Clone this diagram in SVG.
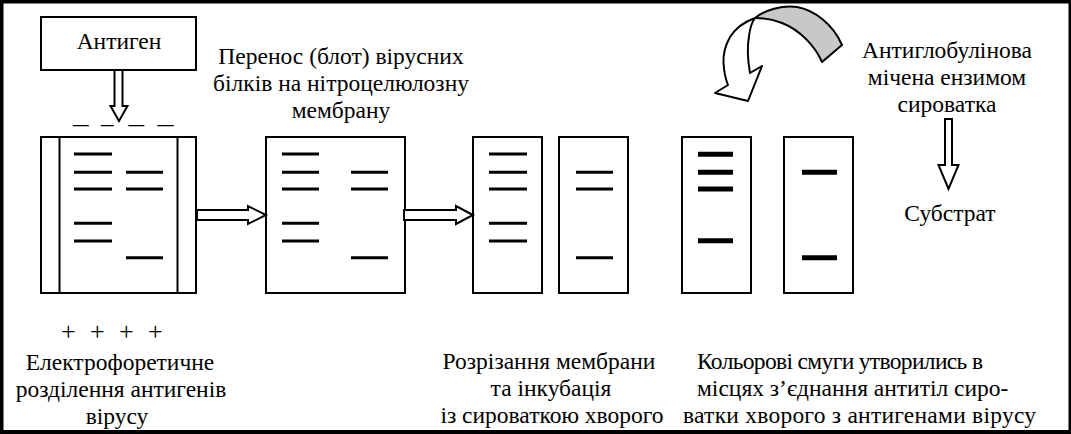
<svg xmlns="http://www.w3.org/2000/svg" width="1071" height="434" viewBox="0 0 1071 434">
<defs>
<style>
.t{font-family:'Liberation Serif','Liberation Sans',sans-serif;font-size:23.5px;fill:#000}
.m{text-anchor:middle}
.box{fill:#fff;stroke:#000;stroke-width:2}
.band{stroke:#000;stroke-width:3}
.bandk{stroke:#000;stroke-width:5}
.blk{fill:#fff;stroke:#000;stroke-width:2;stroke-linejoin:miter}
</style>
</defs>
<rect x="0" y="0" width="1071" height="434" fill="#000"/>
<rect x="3.5" y="3.5" width="1065" height="426.5" fill="#fff"/>

<g id="antigen">
<rect class="box" x="41" y="17" width="155" height="53"/>
<text class="t m" x="119" y="49">Антиген</text>
</g>

<g id="cathode">
<text class="t" y="123"><tspan x="73" textLength="15.5" lengthAdjust="spacingAndGlyphs">_</tspan><tspan x="101" textLength="12.5" lengthAdjust="spacingAndGlyphs">_</tspan><tspan x="128.5" textLength="15.5" lengthAdjust="spacingAndGlyphs">_</tspan><tspan x="157.5" textLength="16" lengthAdjust="spacingAndGlyphs">_</tspan></text>
</g>

<g id="gel1">
<rect class="box" x="41" y="137" width="155" height="156"/>
<line x1="59.5" y1="137" x2="59.5" y2="293" stroke="#000" stroke-width="2"/>
<line x1="177.5" y1="137" x2="177.5" y2="293" stroke="#000" stroke-width="2"/>
<g class="band">
<line x1="74" y1="154" x2="112" y2="154"/>
<line x1="74" y1="172.3" x2="112" y2="172.3"/>
<line x1="74" y1="189" x2="112" y2="189"/>
<line x1="74" y1="223.3" x2="112" y2="223.3"/>
<line x1="74" y1="241" x2="112" y2="241"/>
<line x1="126" y1="172.3" x2="163" y2="172.3"/>
<line x1="126" y1="189" x2="163" y2="189"/>
<line x1="126" y1="257.7" x2="163" y2="257.7"/>
</g>
</g>

<g id="gel2">
<rect class="box" x="266" y="137" width="139" height="156"/>
<g class="band">
<line x1="282" y1="154" x2="319" y2="154"/>
<line x1="282" y1="172.3" x2="319" y2="172.3"/>
<line x1="282" y1="189" x2="319" y2="189"/>
<line x1="282" y1="223.3" x2="319" y2="223.3"/>
<line x1="282" y1="241" x2="319" y2="241"/>
<line x1="351" y1="172.3" x2="388" y2="172.3"/>
<line x1="351" y1="189" x2="388" y2="189"/>
<line x1="351" y1="257.7" x2="388" y2="257.7"/>
</g>
</g>

<g id="strip3">
<rect class="box" x="473" y="137" width="69" height="156"/>
<g class="band">
<line x1="489" y1="154" x2="527" y2="154"/>
<line x1="489" y1="172.3" x2="527" y2="172.3"/>
<line x1="489" y1="189" x2="527" y2="189"/>
<line x1="489" y1="223.3" x2="527" y2="223.3"/>
<line x1="489" y1="241" x2="527" y2="241"/>
</g>
</g>

<g id="strip4">
<rect class="box" x="559" y="137" width="69" height="156"/>
<g class="band">
<line x1="576" y1="172.3" x2="613" y2="172.3"/>
<line x1="576" y1="189" x2="613" y2="189"/>
<line x1="576" y1="257.7" x2="613" y2="257.7"/>
</g>
</g>

<g id="strip5">
<rect class="box" x="682" y="137" width="69" height="156"/>
<g class="bandk">
<line x1="698" y1="154.3" x2="733" y2="154.3"/>
<line x1="698" y1="172.3" x2="733" y2="172.3"/>
<line x1="698" y1="189" x2="733" y2="189"/>
<line x1="698" y1="240.7" x2="733" y2="240.7"/>
</g>
</g>

<g id="strip6">
<rect class="box" x="784" y="137" width="69" height="156"/>
<g class="bandk">
<line x1="802" y1="172.3" x2="837" y2="172.3"/>
<line x1="802" y1="257.7" x2="837" y2="257.7"/>
</g>
</g>

<g id="curved-arrow">
<path d="M755,18 C765,10 782,5 797,7 C814,10 833,24 842,45 L822,62 C815,46 800,30 782,23 C772,19 762,18 755,18 Z" fill="#c8c8c8" stroke="#000" stroke-width="2" stroke-linejoin="round"/>
<path d="M755,18 C744,22 735,29 730,37 C725,46 723,55 723.5,63 C724,72 726,80 728,85 L715,93 L748,101 L762,66 L750,73 C748,62 747,48 749,36 C750,28 752,22 755,18 Z" fill="#fff" stroke="#000" stroke-width="2" stroke-linejoin="round"/>
</g>

<g id="labels">
<text class="t m" x="341" y="64">Перенос (блот) вірусних</text>
<text class="t m" x="341" y="91">білків на нітроцелюлозну</text>
<text class="t m" x="341" y="118">мембрану</text>

<text class="t m" x="947" y="58">Антиглобулінова</text>
<text class="t m" x="947" y="85">мічена ензимом</text>
<text class="t m" x="947" y="112">сироватка</text>

<text class="t m" x="950" y="221">Субстрат</text>

<text class="t" x="61" y="340" style="letter-spacing:3.9px;font-size:26px">+ + + +</text>
<text class="t m" x="120" y="370">Електрофоретичне</text>
<text class="t m" x="121" y="397">розділення антигенів</text>
<text class="t m" x="117" y="424">вірусу</text>

<text class="t m" x="549" y="369">Розрізання мембрани</text>
<text class="t m" x="551" y="396">та інкубація</text>
<text class="t m" x="552" y="423">із сироваткою хворого</text>

<text class="t" x="697" y="369" textLength="286" lengthAdjust="spacing">Кольорові смуги утворились в</text>
<text class="t" x="697" y="396">місцях з’єднання антитіл сиро-</text>
<text class="t" x="683" y="423" textLength="353" lengthAdjust="spacing">ватки хворого з антигенами вірусу</text>
</g>

<g id="connectors">
<path class="blk" d="M114.5,70 L122.5,70 L122.5,106 L127.5,106 L119,121 L110.5,106 L114.5,106 Z"/>
<path class="blk" d="M197,210 L248,210 L248,206 L266,215 L248,224 L248,220 L197,220 Z"/>
<path class="blk" d="M404,210 L456,210 L456,206 L473,215 L456,224 L456,220 L404,220 Z"/>
<path class="blk" d="M945,119 L952,119 L952,165 L958.5,165 L948.5,189 L938.5,165 L945,165 Z"/>
</g>
</svg>
